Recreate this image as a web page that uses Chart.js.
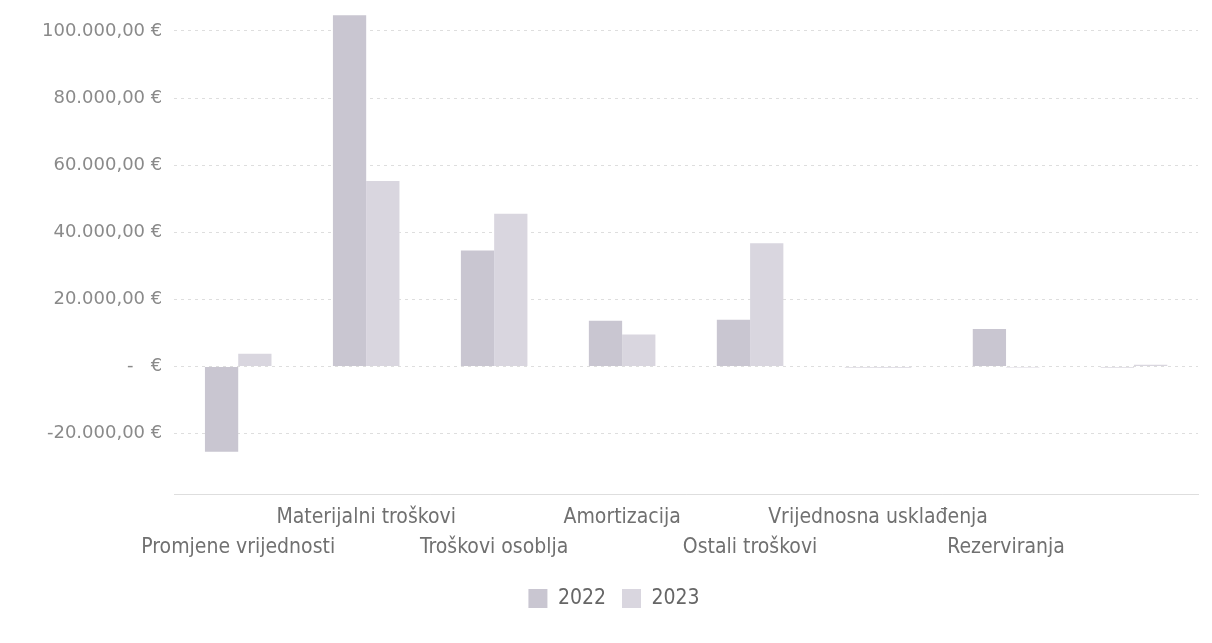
<!DOCTYPE html>
<html>
<head>
<meta charset="utf-8">
<script src="https://cdn.jsdelivr.net/npm/chart.js@4"></script>
<style>
  html, body { margin: 0; padding: 0; background: #fff; overflow: hidden; }
  #wrap { width: 1212px; height: 643px; overflow: hidden; }
  /* canvas is 12px taller and pulled up so the plot can start near the top */
  #chart { display: block; margin-top: -12px; }
</style>
</head>
<body>
<div id="wrap"><canvas id="chart" width="1212" height="655"></canvas></div>
<script>
// ── data ──────────────────────────────────────────
const categories = [
  'Promjene vrijednosti',
  'Materijalni troškovi',
  'Troškovi osoblja',
  'Amortizacija',
  'Ostali troškovi',
  'Vrijednosna usklađenja',
  'Rezerviranja',
  ''
];
const values2022 = [-25400, 104700, 34600, 13600, 13900, -300, 11200, -300];
const values2023 = [3800, 55300, 45500, 9500, 36700, -400, -300, 500];
const yTicks = [-20000, 0, 20000, 40000, 60000, 80000, 100000];

// labels alternate between two rows (upper / lower)
const rowLabels = categories.map((c, i) => i % 2 === 0 ? ['', c] : [c, '']);

function euro(v) {
  if (v === 0) return '-   €';
  const s = Math.abs(v).toFixed(2).replace('.', ',').replace(/\B(?=(\d{3})+(?!\d))/g, '.');
  return (v < 0 ? '-' : '') + s + ' €';
}

const grid = 'rgba(0,0,0,0.13)';
const narrow = "'DejaVu Sans Condensed', 'Liberation Sans'";

new Chart(document.getElementById('chart'), {
  type: 'bar',
  data: {
    labels: rowLabels,
    datasets: [
      { label: '2022', data: values2022, backgroundColor: '#c9c6d1', categoryPercentage: 0.52, barPercentage: 1 },
      { label: '2023', data: values2023, backgroundColor: '#d9d6df', categoryPercentage: 0.52, barPercentage: 1 }
    ]
  },
  options: {
    responsive: false,
    animation: false,
    layout: { padding: { left: 30, right: 14, top: 0, bottom: 24 } },
    plugins: {
      tooltip: { enabled: false },
      legend: {
        position: 'bottom',
        labels: {
          font: { family: narrow, size: 21 },
          color: '#666',
          boxWidth: 19, boxHeight: 19,
          padding: 16
        }
      }
    },
    scales: {
      y: {
        min: -38000,
        max: 106000,
        afterBuildTicks: (s) => { s.ticks = yTicks.map(v => ({ value: v })); },
        ticks: {
          callback: (v) => euro(v),
          font: { family: 'DejaVu Sans', size: 18 },
          color: '#8a8a8a',
          padding: 12
        },
        grid: { color: grid, drawTicks: false },
        border: { display: false, dash: [3, 4] }
      },
      x: {
        ticks: {
          font: { family: narrow, size: 21, lineHeight: '30px' },
          color: '#707070',
          maxRotation: 0,
          autoSkip: false,
          padding: 9
        },
        grid: { display: false, drawTicks: false },
        border: { display: true, color: grid, dash: [4, 4] }
      }
    }
  }
});
</script>
</body>
</html>
